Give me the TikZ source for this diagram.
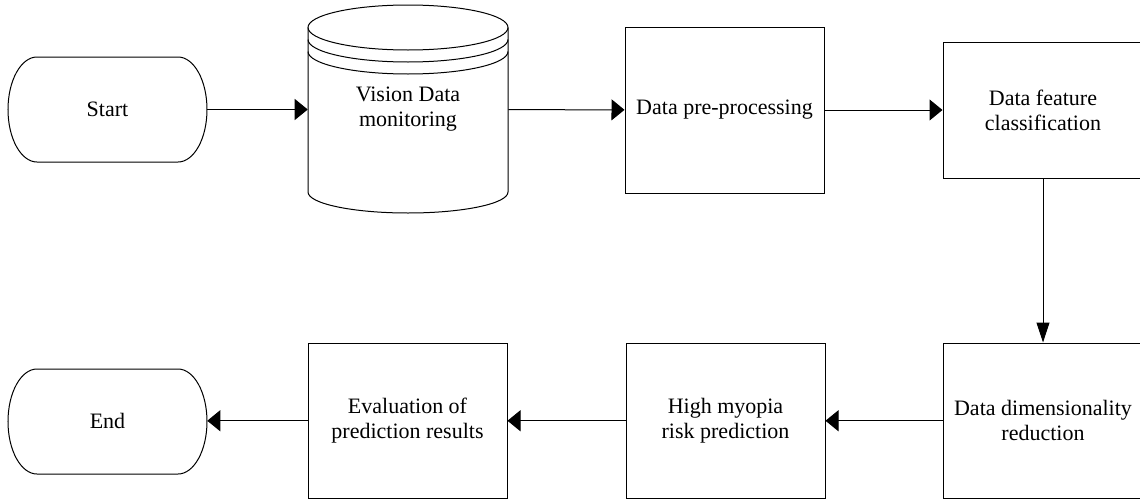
\documentclass[tikz,border=0pt]{standalone}
\usepackage{fontspec}
\setmainfont{Liberation Serif}
\usetikzlibrary{arrows.meta}
\tikzset{
  proc/.style={draw, line width=0.75pt, minimum width=150pt, align=center, inner sep=0pt, font=\fontsize{16.5}{18.75}\selectfont},
  hidden/.style={minimum width=150pt, align=center, inner sep=0pt, font=\fontsize{16.5}{18.75}\selectfont},
  flow/.style={line width=0.75pt, -{Triangle[length=9.75pt,width=15.75pt]}},
  flowdown/.style={line width=0.75pt, -{Triangle[length=15pt,width=9.75pt]}},
}
\begin{document}
\begin{tikzpicture}[x=0.75pt,y=0.75pt,yscale=-1,xscale=1]
\path[use as bounding box, clip] (0,0) rectangle (1140,500);

%Shape: Terminal [id:start]
\draw [line width=0.75pt] (37,57) -- (178,57) .. controls (194,57) and (207,80.5) .. (207,109.5) .. controls (207,138.5) and (194,162) .. (178,162) -- (37,162) .. controls (21,162) and (8,138.5) .. (8,109.5) .. controls (8,80.5) and (21,57) .. (37,57) -- cycle ;
%Shape: Terminal [id:end]
\draw [line width=0.75pt] (37,369) -- (178,369) .. controls (194,369) and (207,392.5) .. (207,421.5) .. controls (207,450.5) and (194,474) .. (178,474) -- (37,474) .. controls (21,474) and (8,450.5) .. (8,421.5) .. controls (8,392.5) and (21,369) .. (37,369) -- cycle ;

%Shape: Can [id:vision]
\draw [line width=0.75pt] (408,27.5) ellipse [x radius=100, y radius=22.5] ;
\draw [line width=0.75pt] (308,39.5) .. controls (308,51.9) and (352.8,62) .. (408,62) .. controls (463.2,62) and (508,51.9) .. (508,39.5) ;
\draw [line width=0.75pt] (308,51.5) .. controls (308,63.9) and (352.8,74) .. (408,74) .. controls (463.2,74) and (508,63.9) .. (508,51.5) ;
\draw [line width=0.75pt] (308,27.5) -- (308,192) .. controls (308,203.6) and (352.8,213) .. (408,213) .. controls (463.2,213) and (508,203.6) .. (508,192) -- (508,27.5) ;

% Nodes
\node [hidden, minimum width=149.25pt, minimum height=78.75pt] (start) at (107.5,109.5) {Start};
\node [hidden, minimum height=123.75pt] (vision) at (408,109.5) {Vision Data\\monitoring};
\node [proc, minimum width=149.25pt, minimum height=124.5pt] (prep) at (724.5,110) {Data pre-processing};
\node [proc, minimum height=102pt] (feat) at (1043,110) {Data feature\\classification};
\node [proc, minimum height=116.6pt] (dimred) at (1043,420.75) {Data dimensionality\\reduction};
\node [proc, minimum width=149.25pt, minimum height=116.6pt] (risk) at (725.5,420.75) {High myopia\\risk prediction};
\node [proc, minimum width=149.25pt, minimum height=116.6pt] (eval) at (407.5,420.75) {Evaluation of\\prediction results};
\node [hidden, minimum width=149.25pt, minimum height=78.75pt] (end) at (107.5,420.75) {End};

% Connectors
\draw [flow] (start) -- (vision) ;
\draw [flow] (vision) -- (prep) ;
\draw [flow] (prep) -- (feat) ;
\draw [flowdown] (feat) -- (dimred) ;
\draw [flow] (dimred) -- (risk) ;
\draw [flow] (risk) -- (eval) ;
\draw [flow] (eval) -- (end) ;

\end{tikzpicture}
\end{document}
